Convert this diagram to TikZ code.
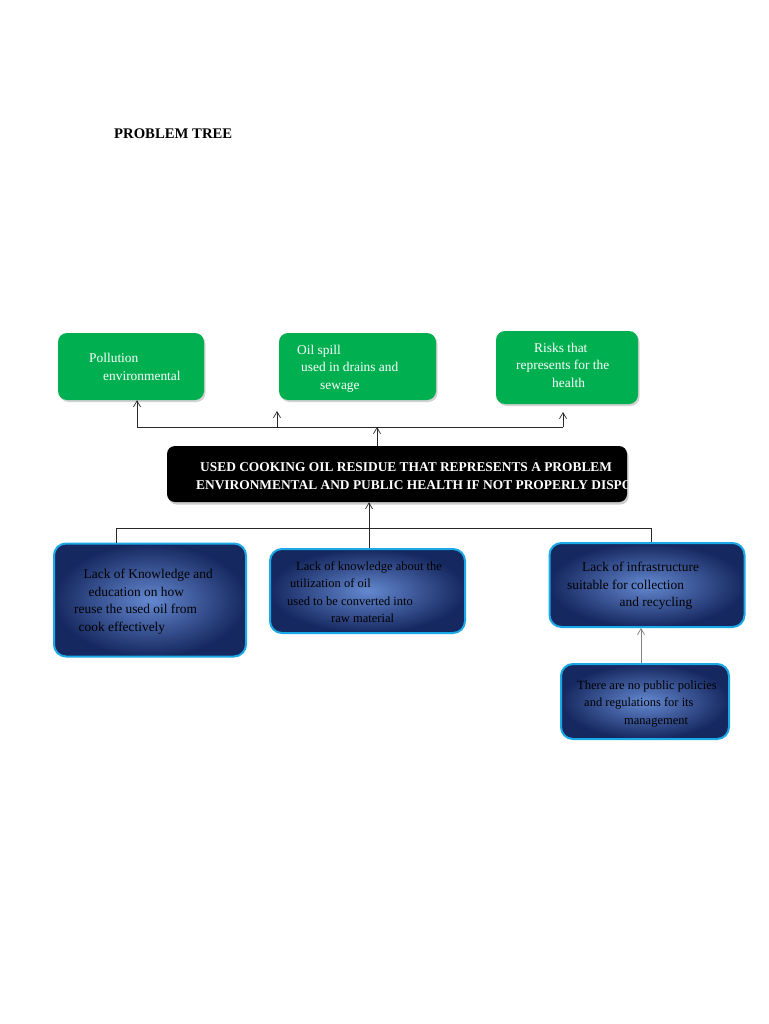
\documentclass[tikz,border=0pt]{standalone}
\usepackage{fontspec}
\setmainfont{Liberation Serif}
\usetikzlibrary{arrows.meta,shadows}
\definecolor{gbox}{RGB}{0,176,80}
\definecolor{bin}{RGB}{100,136,208}
\definecolor{bout}{RGB}{22,40,96}
\definecolor{bedge}{RGB}{26,168,230}
\definecolor{lnk}{RGB}{40,40,40}
\tikzset{
  greenbox/.style={draw=none,fill=gbox,rounded corners=9pt,inner sep=0pt,
    drop shadow={opacity=0.35,shadow xshift=1.5pt,shadow yshift=-2pt}},
  bluebox/.style={draw=bedge,line width=2pt,rounded corners=12pt,inner sep=0pt,
    inner color=bin,outer color=bout},
  blackbox/.style={fill=black,rounded corners=8pt,inner sep=0pt,
    drop shadow={opacity=0.4,shadow xshift=1.5pt,shadow yshift=-2.5pt}},
  gtx/.style={anchor=base west,inner sep=0pt,text=white,font=\fontsize{13.4}{16}\selectfont},
  btx/.style={anchor=base west,inner sep=0pt,text=black,font=\fontsize{12.5}{15}\selectfont},
  bbtx/.style={anchor=base west,inner sep=0pt,text=black,font=\fontsize{13.4}{16}\selectfont},
  ktx/.style={anchor=base west,inner sep=0pt,text=white,font=\bfseries\fontsize{13.4}{16}\selectfont},
  link/.style={draw=lnk,line width=0.9pt},
  arr/.style={link,-{Straight Barb[length=6pt,width=7pt,line width=0.7pt]}},
}
\begin{document}
\begin{tikzpicture}[x=1pt,y=-1pt]
\useasboundingbox[fill=white] (0,0) rectangle (768,1024);
% title
\node[anchor=base west,inner sep=0pt,font=\bfseries\fontsize{14.7}{17}\selectfont] (title) at (114,139) {PROBLEM TREE};
% green effect boxes
\node[greenbox,minimum width=146pt,minimum height=67pt] (g1) at (131,366.5) {};
\node[greenbox,minimum width=157pt,minimum height=67pt] (g2) at (357.5,366.5) {};
\node[greenbox,minimum width=142pt,minimum height=73pt] (g3) at (567,367.5) {};
\node[gtx] (g1a) at (89,362) {Pollution};
\node[gtx] (g1b) at (103,380) {environmental};
\node[gtx] (g2a) at (297,354) {Oil spill};
\node[gtx] (g2b) at (301,371.5) {used in drains and};
\node[gtx] (g2c) at (320,389) {sewage};
\node[gtx] (g3a) at (534,352) {Risks that};
\node[gtx] (g3b) at (516,369.5) {represents for the};
\node[gtx] (g3c) at (552,387) {health};
% black central box
\node[blackbox,minimum width=460pt,minimum height=56pt] (core) at (397,474) {};
\begin{scope}
\clip[rounded corners=8pt] (167,446) rectangle (627,502);
\node[ktx] (core1) at (200,471) {USED COOKING OIL RESIDUE THAT REPRESENTS A PROBLEM};
\node[ktx] (core2) at (196,489) {ENVIRONMENTAL AND PUBLIC HEALTH IF NOT PROPERLY DISPOSED};
\end{scope}
% blue cause boxes
\node[bluebox,minimum width=192pt,minimum height=113pt] (c1) at (150,600) {};
\node[bluebox,minimum width=195pt,minimum height=84pt] (c2) at (367.5,591) {};
\node[bluebox,minimum width=195pt,minimum height=84pt] (c3) at (647,585) {};
\node[bluebox,minimum width=168pt,minimum height=75pt] (c4) at (645,701.5) {};
\node[bbtx] (c1a) at (83.5,578.5) {Lack of Knowledge and};
\node[bbtx] (c1b) at (88.5,596) {education on how};
\node[bbtx] (c1c) at (74,613.5) {reuse the used oil from};
\node[bbtx] (c1d) at (78.5,631) {cook effectively};
\node[btx] (c2a) at (296,570) {Lack of knowledge about the};
\node[btx] (c2b) at (290,587.5) {utilization of oil};
\node[btx] (c2c) at (287,605) {used to be converted into};
\node[btx] (c2d) at (331,622.5) {raw material};
\node[bbtx] (c3a) at (582,571.5) {Lack of infrastructure};
\node[bbtx] (c3b) at (567,589) {suitable for collection};
\node[bbtx] (c3c) at (619.5,606.5) {and recycling};
\node[btx] (c4a) at (577,689) {There are no public policies};
\node[btx] (c4b) at (584,706.5) {and regulations for its};
\node[btx] (c4c) at (624,724) {management};
% upper connectors
\coordinate (ja) at (137,427);
\coordinate (jb) at (277,427);
\coordinate (jc) at (377,427);
\coordinate (jd) at (563,427);
\coordinate (jbt) at (277,411);
\coordinate (jdt) at (563,412);
\draw[link] (ja) -- (jd);
\draw[arr] (ja) -- (g1.south -| ja);
\draw[arr] (jb) -- (jbt);
\draw[arr] (jd) -- (jdt);
\draw[arr] (core.north -| jc) -- (jc);
% lower connectors
\coordinate (ka) at (116,528);
\coordinate (kb) at (651,528);
\draw[link] (ka) -- (kb);
\draw[link] (ka) -- (c1.north -| ka);
\draw[link] (kb) -- (c3.north -| kb);
\draw[arr] (c2.north -| 369,0) -- (core.south -| 369,0);
% policy to infrastructure
\draw[arr,draw=gray] (c4.north -| 641,0) -- (c3.south -| 641,0);
\end{tikzpicture}
\end{document}
